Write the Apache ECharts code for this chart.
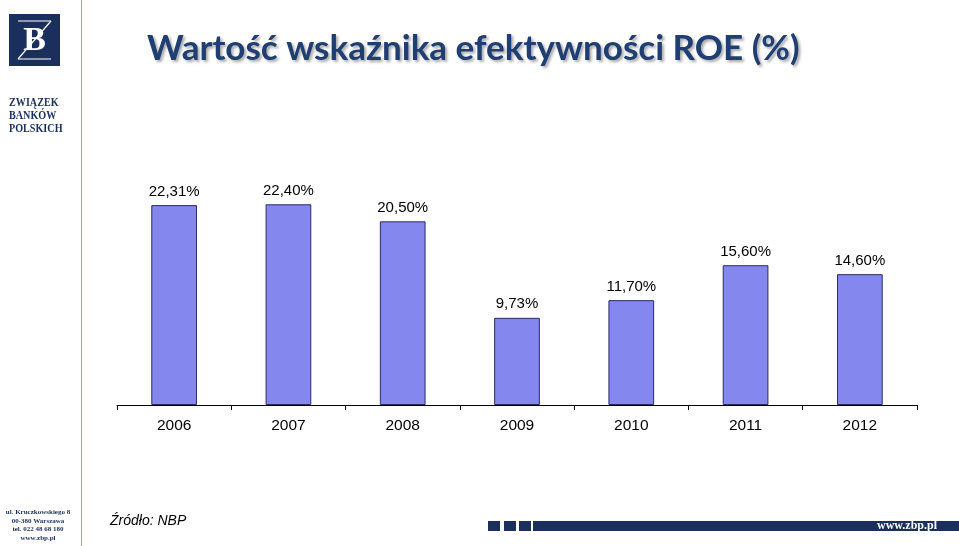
<!DOCTYPE html>
<html><head><meta charset="utf-8">
<script src="https://cdn.jsdelivr.net/npm/echarts@6/dist/echarts.min.js"></script>
<style>html,body{margin:0;padding:0;background:#fff}#c{width:959px;height:546px}</style>
</head><body><div id="c"></div>
<script>
var years = ['2006','2007','2008','2009','2010','2011','2012'];
var roeValues = [22.31, 22.40, 20.50, 9.73, 11.70, 15.60, 14.60];
var titleText = 'Wartość wskaźnika efektywności ROE (%)';
var sourceText = 'Źródło: NBP';
var addressLines = ['ul. Kruczkowskiego 8','00-380 Warszawa','tel. 022 48 68 180','www.zbp.pl'];
var logoLines = ['ZWIĄZEK','BANKÓW','POLSKICH'];

var navy = '#1b2f5c';
var chart = echarts.init(document.getElementById('c'), null, {renderer:'canvas'});

var graphics = [
  {type:'line', shape:{x1:81.5,y1:0,x2:81.5,y2:546}, style:{stroke:'#9aa8c0',lineWidth:1}},
  {type:'rect', shape:{x:9,y:14,width:51,height:52}, style:{fill:navy}},
  {type:'line', shape:{x1:18,y1:21,x2:51,y2:21}, style:{stroke:'#fff',lineWidth:1.2}},
  {type:'line', shape:{x1:18,y1:59,x2:51,y2:59}, style:{stroke:'#fff',lineWidth:1.2}},
  {type:'line', shape:{x1:51,y1:21,x2:18,y2:59}, style:{stroke:'#fff',lineWidth:1.2}},
  {type:'text', style:{x:34.5,y:41,text:'B',fill:'#fff',font:'bold 34px "Liberation Serif", serif',textAlign:'center',textVerticalAlign:'middle'}},
  {type:'rect', shape:{x:488,y:521,width:12,height:10}, style:{fill:navy}},
  {type:'rect', shape:{x:504,y:521,width:12,height:10}, style:{fill:navy}},
  {type:'rect', shape:{x:519,y:521,width:12,height:10}, style:{fill:navy}},
  {type:'rect', shape:{x:533,y:521,width:426,height:10}, style:{fill:navy}},
  {type:'text', style:{x:937,y:526,text:'www.zbp.pl',fill:'#fff',font:'bold 12px "Liberation Serif", serif',textAlign:'right',textVerticalAlign:'middle'}},
  {type:'text', style:{x:110,y:521,text:sourceText,fill:'#000',font:'italic 14px "Liberation Sans", Arial, sans-serif',textAlign:'left',textVerticalAlign:'middle'}}
];
logoLines.forEach(function(t,i){
  graphics.push({type:'text', x:9, y:103+i*12.7, scaleX:0.78,
    style:{x:0,y:0,text:t,fill:navy,font:'bold 13px "Liberation Serif", serif',textAlign:'left',textVerticalAlign:'middle'}});
});
addressLines.forEach(function(t,i){
  graphics.push({type:'text', style:{x:38,y:512+i*8.7,text:t,fill:navy,font:'bold 7px "Liberation Serif", serif',textAlign:'center',textVerticalAlign:'middle'}});
});

chart.setOption({
  animation:false,
  title:{
    text:titleText, left:142, top:26,
    textStyle:{fontFamily:'Lato, "Open Sans", sans-serif', fontWeight:'bold', fontSize:35, color:'#1f3e72',
      textShadowColor:'rgba(0,0,0,0.35)', textShadowBlur:3, textShadowOffsetX:2, textShadowOffsetY:2}
  },
  grid:{left:117, right:42, top:181, bottom:141, containLabel:false},
  xAxis:{
    type:'category', data:years,
    axisLine:{lineStyle:{color:'#000',width:1}},
    axisTick:{show:true,length:5,lineStyle:{color:'#000'}},
    axisLabel:{color:'#000',fontSize:15.5,fontFamily:'"Liberation Sans", Arial, sans-serif',margin:13}
  },
  yAxis:{type:'value',min:0,max:25,show:false,splitLine:{show:false}},
  series:[{
    type:'bar', data:roeValues, barWidth:'40%',
    itemStyle:{color:'#8387ee',borderColor:'#2b2b66',borderWidth:1},
    label:{show:true,position:'top',distance:6,color:'#000',fontSize:15,fontFamily:'"Liberation Sans", Arial, sans-serif',
      formatter:function(p){return p.value.toFixed(2).replace('.',',')+'%';}}
  }],
  graphic:graphics
});
</script></body></html>
